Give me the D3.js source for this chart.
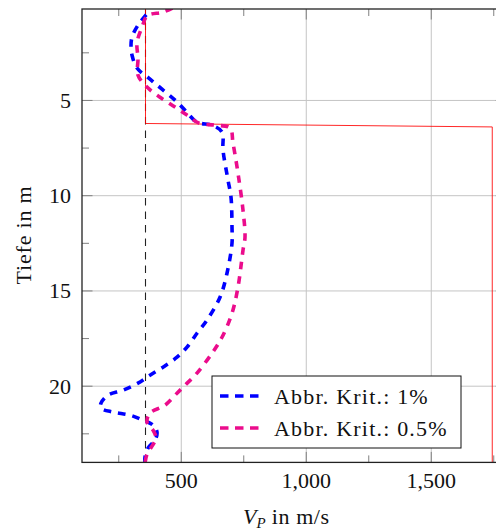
<!DOCTYPE html>
<html>
<head>
<meta charset="utf-8">
<script src="https://cdn.jsdelivr.net/npm/d3@7"></script>
<style>
  body { margin: 0; background: #fff; }
</style>
</head>
<body>
<svg id="chart" width="496" height="532" font-family="'Liberation Serif', 'DejaVu Serif', serif"></svg>
<script>
// depth profiles (Tiefe in m) vs V_P (m/s)
var depth1 = [0.5, 1.05, 1.68, 2.2, 2.62, 3.3, 3.88, 4.41, 4.98, 5.51, 6.14, 6.3, 6.66, 7.61, 9.18, 10.08, 11.65, 12.49, 14.07, 15.33, 16.53, 17.22, 17.95, 18.48, 19.0, 19.42, 19.84, 20.21, 20.47, 20.89, 21.15, 21.36, 21.52, 21.78, 22.04, 22.41, 22.83, 23.25, 23.72, 24.05];
var vp1    = [360, 327, 303, 299, 303, 323, 375, 423, 475, 515, 563, 623, 663, 667, 687, 699, 703, 703, 683, 655, 603, 563, 523, 483, 427, 375, 327, 267, 207, 179, 179, 227, 295, 347, 387, 403, 395, 367, 355, 355];

var depth05 = [0.15, 0.37, 0.55, 1.15, 1.99, 2.78, 3.67, 4.3, 4.83, 5.35, 5.77, 6.19, 6.3, 6.45, 7.24, 8.82, 10.76, 12.18, 12.86, 14.8, 16.17, 17.43, 18.27, 19.31, 19.95, 20.37, 21.0, 21.41, 21.89, 22.31, 22.73, 23.15, 23.57, 24.04];
var vp05    = [465, 425, 365, 343, 323, 327, 327, 363, 415, 475, 523, 571, 635, 695, 707, 727, 747, 755, 747, 727, 703, 663, 623, 563, 515, 483, 435, 375, 363, 387, 399, 383, 363, 355];

// reference lines
var critVp = 357;
var redDepth = [0.0, 6.21, 6.39, 24.1];
var redVp    = [357, 357, 1744, 1744];

var xMajor = [500, 1000, 1500];
var xMinor = [250, 750, 1250, 1750];
var yMajor = [5, 10, 15, 20];
var yMinor = [2.5, 7.5, 12.5, 17.5, 22.5];

var legendNames = ["Abbr. Krit.: 1%", "Abbr. Krit.: 0.5%"];
var colors = ["#0000ff", "#eb0c8c"];

var ctx = { left: 82, top: 9, bottom: 462.4, right: 506.25, major: 10.5, minor: 7 };

var svg = d3.select("#chart");
var x = d3.scaleLinear().domain([103, 1800]).range([ctx.left, ctx.right]);
var y = d3.scaleLinear().domain([0.2, 24.0]).range([ctx.top, ctx.bottom]);

svg.append("defs").append("clipPath").attr("id", "plotClip")
  .append("rect")
  .attr("x", ctx.left).attr("y", ctx.top)
  .attr("width", ctx.right - ctx.left).attr("height", ctx.bottom - ctx.top);

// grid
var grid = svg.append("g").attr("stroke", "#c4c4c4").attr("stroke-width", 1);
xMajor.forEach(function(v){
  grid.append("line").attr("x1", x(v)).attr("x2", x(v)).attr("y1", ctx.top).attr("y2", ctx.bottom);
});
yMajor.forEach(function(v){
  grid.append("line").attr("y1", y(v)).attr("y2", y(v)).attr("x1", ctx.left).attr("x2", ctx.right);
});

// ticks on all sides, pointing inward
var ticks = svg.append("g").attr("stroke", "#808080").attr("stroke-width", 1);
function xTicks(vals, len) {
  vals.forEach(function(v){
    ticks.append("line").attr("x1", x(v)).attr("x2", x(v)).attr("y1", ctx.bottom).attr("y2", ctx.bottom - len);
    ticks.append("line").attr("x1", x(v)).attr("x2", x(v)).attr("y1", ctx.top).attr("y2", ctx.top + len);
  });
}
function yTicks(vals, len) {
  vals.forEach(function(v){
    ticks.append("line").attr("y1", y(v)).attr("y2", y(v)).attr("x1", ctx.left).attr("x2", ctx.left + len);
    ticks.append("line").attr("y1", y(v)).attr("y2", y(v)).attr("x1", ctx.right).attr("x2", ctx.right - len);
  });
}
xTicks(xMajor, ctx.major); xTicks(xMinor, ctx.minor);
yTicks(yMajor, ctx.major); yTicks(yMinor, ctx.minor);

var plot = svg.append("g").attr("clip-path", "url(#plotClip)");

// critical velocity (black dashed)
plot.append("line")
  .attr("x1", x(critVp)).attr("x2", x(critVp))
  .attr("y1", ctx.top).attr("y2", ctx.bottom)
  .attr("stroke", "#222").attr("stroke-width", 1.1)
  .attr("stroke-dasharray", "7.5 6");

// red step
var redLine = d3.line().x(function(d){ return x(d[0]); }).y(function(d){ return y(d[1]); });
plot.append("path")
  .attr("d", redLine(d3.zip(redVp, redDepth)))
  .attr("fill", "none").attr("stroke", "#ff0000").attr("stroke-width", 1)
  .attr("stroke-opacity", 0.85);

// profiles
var curve = d3.line()
  .x(function(d){ return x(d[0]); })
  .y(function(d){ return y(d[1]); })
  .curve(d3.curveCatmullRom.alpha(0.5));
[[vp1, depth1], [vp05, depth05]].forEach(function(s, i){
  plot.append("path")
    .attr("d", curve(d3.zip(s[0], s[1])))
    .attr("fill", "none")
    .attr("stroke", colors[i]).attr("stroke-width", 3.6)
    .attr("stroke-dasharray", "7.5 7");
});

// frame
var frame = svg.append("g").attr("stroke", "#222").attr("stroke-width", 1.3).attr("fill", "none");
frame.append("rect")
  .attr("x", ctx.left).attr("y", ctx.top)
  .attr("width", ctx.right - ctx.left).attr("height", ctx.bottom - ctx.top);

// tick labels
svg.append("g").selectAll("text").data(xMajor).enter().append("text")
  .attr("x", function(d){ return x(d); }).attr("y", 488)
  .attr("text-anchor", "middle").attr("font-size", 22).attr("fill", "#111")
  .text(function(d){ return d3.format(",")(d); });
svg.append("g").selectAll("text").data(yMajor).enter().append("text")
  .attr("x", 71).attr("y", function(d){ return y(d) + 7.5; })
  .attr("text-anchor", "end").attr("font-size", 22).attr("fill", "#111")
  .text(function(d){ return d; });

// axis labels
var xl = svg.append("text").attr("x", 243).attr("y", 524).attr("font-size", 22).attr("fill", "#111");
xl.append("tspan").attr("font-style", "italic").text("V");
xl.append("tspan").attr("font-style", "italic").attr("font-size", 15).attr("dy", 4).text("P");
xl.append("tspan").attr("dy", -4).attr("letter-spacing", 0.6).text(" in m/s");

svg.append("text")
  .attr("transform", "translate(31,235) rotate(-90)")
  .attr("text-anchor", "middle").attr("font-size", 22).attr("fill", "#111")
  .attr("letter-spacing", 0.8)
  .text("Tiefe in m");

// legend
var legend = svg.append("g");
legend.append("rect")
  .attr("x", 212).attr("y", 376).attr("width", 249).attr("height", 72)
  .attr("fill", "#fff").attr("stroke", "#111").attr("stroke-width", 1);
legendNames.forEach(function(name, i){
  var ly = 396 + i * 32;
  legend.append("line")
    .attr("x1", 220).attr("x2", 262).attr("y1", ly).attr("y2", ly)
    .attr("stroke", colors[i]).attr("stroke-width", 3.6)
    .attr("stroke-dasharray", "8.5 6.5");
  legend.append("text")
    .attr("x", 274).attr("y", ly + 7.5)
    .attr("font-size", 22).attr("letter-spacing", 1.2).attr("fill", "#111")
    .text(name);
});
</script>
</body>
</html>
